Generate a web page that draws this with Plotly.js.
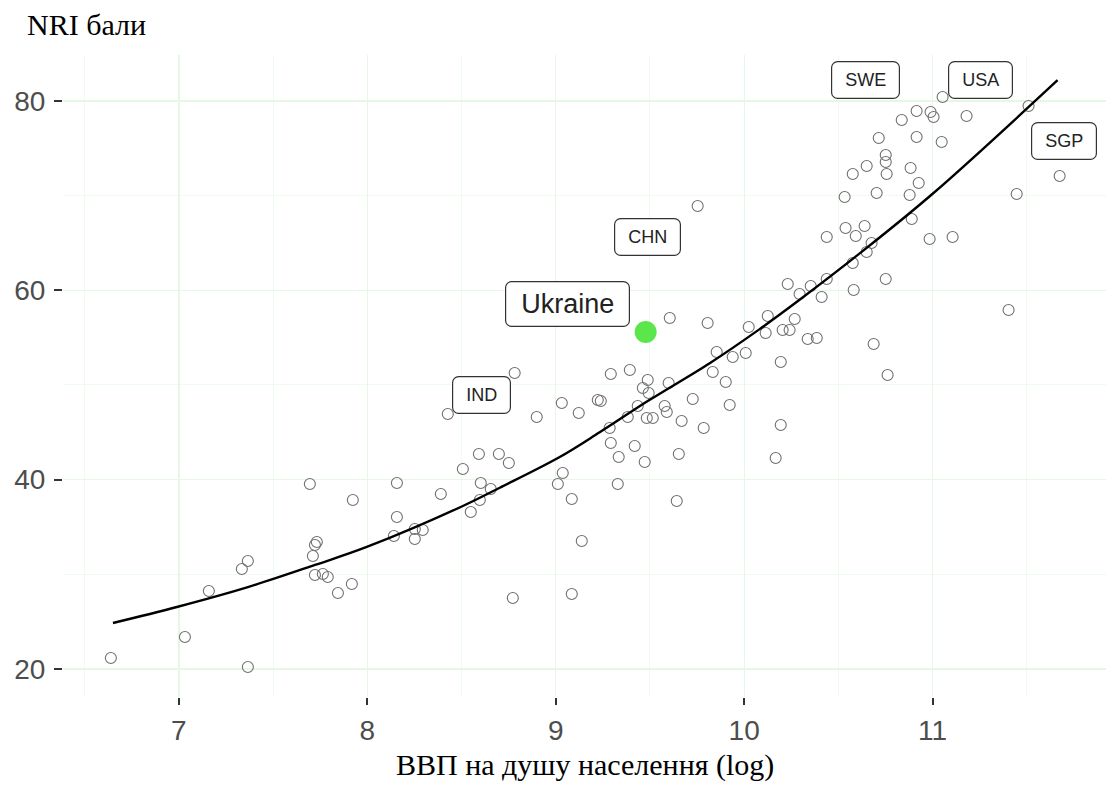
<!DOCTYPE html>
<html>
<head>
<meta charset="utf-8">
<script src="https://cdn.plot.ly/plotly-3.0.1.min.js"></script>
<style>
  html, body { margin: 0; padding: 0; background: #ffffff; }
  #chart { width: 1113px; height: 796px; }
</style>
</head>
<body>
<div id="chart"></div>
<script>
// ---- Data (log GDP per capita vs NRI score) ----
const gdp_log = [
  6.639, 7.032, 7.366, 7.159, 7.334, 7.366, 7.695, 7.923, 7.732, 7.722,
  7.711, 7.722, 7.764, 7.790, 7.844, 7.918, 8.782, 8.427, 8.899, 9.032,
  9.122, 9.223, 8.592, 8.698, 8.751, 8.507, 8.602, 8.655, 8.597, 8.549,
  8.390, 8.157, 8.157, 8.141, 8.252, 8.294, 8.252, 8.772, 9.085, 9.138,
  9.085, 9.011, 9.037, 9.753, 9.605, 9.806, 10.125, 10.024, 10.114, 10.268,
  10.204, 10.241, 10.337, 10.385, 9.854, 9.939, 10.008, 10.194, 9.833, 9.902,
  9.292, 9.393, 9.488, 9.462, 9.493, 9.599, 9.727, 9.923, 9.239, 9.435,
  9.578, 9.589, 9.382, 9.483, 9.515, 9.668, 9.785, 9.286, 9.292, 9.419,
  9.334, 9.472, 9.653, 10.194, 10.167, 9.329, 9.642, 10.231, 10.294, 10.353,
  10.411, 10.438, 10.581, 10.576, 10.650, 10.676, 10.592, 10.538, 10.639, 10.438,
  10.889, 10.984, 11.106, 10.751, 10.533, 10.703, 10.878, 10.926, 10.883, 10.650,
  10.576, 10.756, 10.751, 10.751, 10.714, 10.915, 11.048, 10.836, 10.915, 10.989,
  11.005, 11.053, 11.180, 11.509, 11.674, 11.446, 11.403, 10.687, 10.761
];
const nri_score = [
  21.16, 23.38, 20.21, 28.24, 30.56, 31.41, 39.54, 37.85, 33.42, 33.10,
  31.94, 29.93, 30.04, 29.72, 28.03, 28.98, 51.27, 46.94, 46.62, 48.10,
  47.04, 48.41, 42.71, 42.71, 41.76, 41.13, 39.65, 39.01, 37.85, 36.58,
  38.49, 39.65, 36.06, 34.05, 34.79, 34.68, 33.73, 27.50, 27.92, 33.52,
  37.96, 39.54, 40.70, 68.91, 57.08, 56.55, 57.29, 56.13, 55.49, 56.97,
  55.81, 55.81, 54.86, 54.96, 53.49, 52.96, 53.38, 52.43, 51.37, 50.32,
  51.16, 51.58, 50.53, 49.68, 49.15, 50.21, 48.52, 47.89, 48.31, 47.78,
  47.78, 47.15, 46.62, 46.51, 46.51, 46.20, 45.46, 45.46, 43.87, 43.56,
  42.39, 41.87, 42.71, 45.77, 42.29, 39.54, 37.75, 60.67, 59.61, 60.46,
  59.30, 61.20, 60.03, 62.89, 64.05, 65.00, 65.74, 66.58, 66.80, 65.63,
  67.53, 65.42, 65.63, 61.20, 69.86, 70.28, 70.07, 71.34, 72.92, 73.13,
  72.29, 72.29, 74.30, 73.56, 76.09, 76.20, 75.67, 77.99, 78.94, 78.84,
  78.31, 80.42, 78.41, 79.47, 72.08, 70.18, 57.92, 54.33, 51.06
];

// Ukraine
const ukraine_x = [9.477];
const ukraine_y = [55.6];

// Smoothed trend curve
const fit_x = [6.650, 6.989, 7.366, 7.722, 7.997, 8.507, 8.703, 9.021, 9.233, 9.488, 9.817, 10.082, 10.294, 10.613, 11.000, 11.663];
const fit_y = [24.86, 26.55, 28.65, 30.99, 32.89, 37.22, 39.15, 42.39, 45.00, 48.30, 52.30, 55.90, 59.00, 63.90, 70.20, 82.20];

// Country labels
const label_text = ["IND", "CHN", "Ukraine", "SWE", "USA", "SGP"];
const label_x = [8.607, 9.488, 9.064, 10.645, 11.255, 11.695];
const label_y = [48.94, 65.63, 58.55, 82.22, 82.22, 75.77];
const label_big = ["Ukraine"];

// Axis ticks
const x_ticks = [7, 8, 9, 10, 11];
const x_minor = [6.5, 7.5, 8.5, 9.5, 10.5, 11.5];
const y_ticks = [20, 40, 60, 80];
const y_minor = [30, 50, 70];

// ---- Chart ----
const canvas = document.createElement('canvas');
const ctx = canvas.getContext('2d');
function textWidth(t, size) {
  ctx.font = size + 'px "Liberation Sans", Arial, sans-serif';
  return ctx.measureText(t).width;
}

const gridMajor = '#e6f7e6';
const gridMinor = '#eefbee';
const sans = '"Liberation Sans", Arial, sans-serif';
const serif = '"Liberation Serif", "Times New Roman", serif';

const traces = [
  {
    type: 'scatter', mode: 'markers',
    x: gdp_log, y: nri_score,
    marker: { symbol: 'circle-open', size: 11, color: '#707070', line: { width: 1.1, color: '#707070' } },
    hoverinfo: 'x+y', showlegend: false
  },
  {
    type: 'scatter', mode: 'lines',
    x: fit_x, y: fit_y,
    line: { color: '#000000', width: 2.4, shape: 'spline', smoothing: 1.0 },
    hoverinfo: 'skip', showlegend: false
  },
  {
    type: 'scatter', mode: 'markers',
    x: ukraine_x, y: ukraine_y,
    marker: { symbol: 'circle', size: 22, color: '#5be64b', line: { width: 0 } },
    hoverinfo: 'x+y', showlegend: false
  }
];

const annotations = label_text.map((t, i) => {
  const big = label_big.includes(t);
  const fs = big ? 27 : 18;
  return {
    x: label_x[i], y: label_y[i], xref: 'x', yref: 'y',
    text: t, showarrow: false,
    font: { family: sans, size: fs, color: '#222222' },
    bgcolor: '#ffffff', bordercolor: '#333333', borderwidth: 1.2,
    borderpad: 4,
    width: Math.round(textWidth(t, fs) + (big ? 22 : 18)),
    height: big ? 36 : 28,
    xanchor: 'center', yanchor: 'middle'
  };
});

annotations.push({
  xref: 'paper', yref: 'paper', x: -0.036, y: 1.047,
  xanchor: 'left', yanchor: 'middle', showarrow: false,
  text: 'NRI бали',
  font: { family: serif, size: 30, color: '#000000' }
});
annotations.push({
  xref: 'paper', yref: 'paper', x: 0.5, y: -0.106,
  xanchor: 'center', yanchor: 'middle', showarrow: false,
  text: 'ВВП на душу населення (log)',
  font: { family: serif, size: 30, color: '#000000' }
});

const layout = {
  width: 1113, height: 796, autosize: false,
  margin: { l: 63, r: 7, t: 55, b: 99, pad: 0 },
  paper_bgcolor: '#ffffff', plot_bgcolor: '#ffffff',
  font: { family: sans },
  showlegend: false,
  xaxis: {
    range: [6.385, 11.92],
    tickmode: 'array', tickvals: x_ticks, ticktext: x_ticks.map(String),
    ticks: 'outside', ticklen: 7, tickwidth: 2, tickcolor: '#333333',
    ticklabelstandoff: 1,
    tickfont: { size: 28, color: '#4d4d4d', family: sans },
    showgrid: true, gridcolor: gridMajor, gridwidth: 1.3,
    minor: { tickmode: 'array', tickvals: x_minor, showgrid: true, gridcolor: gridMinor, gridwidth: 1, ticks: '' },
    zeroline: false, showline: false
  },
  yaxis: {
    range: [17.04, 84.86],
    tickmode: 'array', tickvals: y_ticks, ticktext: y_ticks.map(String),
    ticks: 'outside', ticklen: 8, tickwidth: 2, tickcolor: '#333333',
    ticklabelstandoff: 3,
    tickfont: { size: 28, color: '#4d4d4d', family: sans },
    showgrid: true, gridcolor: gridMajor, gridwidth: 1.3,
    minor: { tickmode: 'array', tickvals: y_minor, showgrid: true, gridcolor: gridMinor, gridwidth: 1, ticks: '' },
    zeroline: false, showline: false
  },
  annotations: annotations
};

Plotly.newPlot('chart', traces, layout, { staticPlot: true, displayModeBar: false }).then(() => {
  document.querySelectorAll('#chart .annotation rect.bg').forEach((r, i) => {
    if (i < label_text.length) { r.setAttribute('rx', 6); r.setAttribute('ry', 6); }
  });
});
</script>
</body>
</html>
